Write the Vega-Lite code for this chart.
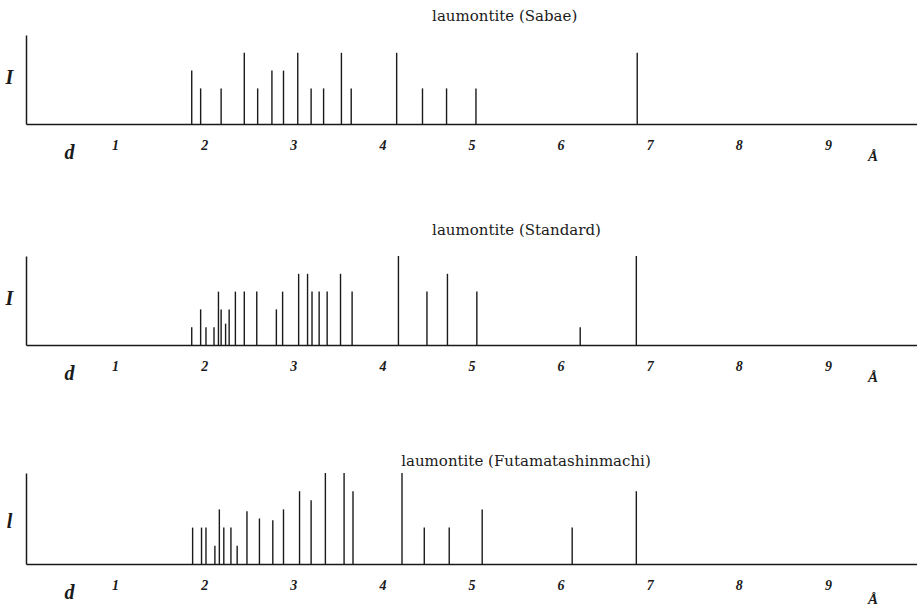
{
  "$schema": "https://vega.github.io/schema/vega-lite/v6.json",
  "background": "white",
  "padding": {"left": 5, "top": 9, "right": 0, "bottom": 0},
  "spacing": 60,
  "config": {
    "view": {"stroke": null},
    "axisX": {
      "ticks": false,
      "grid": false,
      "domainColor": "#1a1a1a",
      "domainWidth": 1.5,
      "labelFont": "Liberation Serif",
      "labelFontStyle": "italic",
      "labelFontWeight": "bold",
      "labelColor": "#1a1a1a",
      "labelFlush": false,
      "labelOverlap": false,
      "titleX": 43,
      "titleY": 28,
      "titleAlign": "center",
      "titleBaseline": "middle",
      "titleFont": "Liberation Serif",
      "titleFontStyle": "italic",
      "titleFontWeight": "bold",
      "titleFontSize": 20,
      "titleColor": "#1a1a1a"
    },
    "axisY": {
      "titleAngle": 0,
      "titleX": -17,
      "titleY": 42,
      "titleAlign": "center",
      "titleBaseline": "middle",
      "titleFont": "Liberation Serif",
      "titleFontStyle": "italic",
      "titleFontWeight": "bold",
      "titleFontSize": 20,
      "titleColor": "#1a1a1a",
      "labels": false,
      "ticks": false,
      "grid": false,
      "domainColor": "#1a1a1a",
      "domainWidth": 1.5
    }
  },
  "datasets": {
    "sabae": [
      {"d": 1.86, "I": 3}, {"d": 1.96, "I": 2}, {"d": 2.19, "I": 2}, {"d": 2.45, "I": 4},
      {"d": 2.60, "I": 2}, {"d": 2.76, "I": 3}, {"d": 2.89, "I": 3}, {"d": 3.05, "I": 4},
      {"d": 3.20, "I": 2}, {"d": 3.34, "I": 2}, {"d": 3.54, "I": 4}, {"d": 3.65, "I": 2},
      {"d": 4.16, "I": 4}, {"d": 4.45, "I": 2}, {"d": 4.72, "I": 2}, {"d": 5.05, "I": 2},
      {"d": 6.86, "I": 4}
    ],
    "standard": [
      {"d": 1.86, "I": 1}, {"d": 1.96, "I": 2}, {"d": 2.02, "I": 1}, {"d": 2.11, "I": 1},
      {"d": 2.16, "I": 3}, {"d": 2.19, "I": 2}, {"d": 2.24, "I": 1.2}, {"d": 2.28, "I": 2},
      {"d": 2.35, "I": 3}, {"d": 2.45, "I": 3}, {"d": 2.59, "I": 3}, {"d": 2.81, "I": 2},
      {"d": 2.88, "I": 3}, {"d": 3.06, "I": 4}, {"d": 3.16, "I": 4}, {"d": 3.21, "I": 3},
      {"d": 3.29, "I": 3}, {"d": 3.38, "I": 3}, {"d": 3.53, "I": 4}, {"d": 3.66, "I": 3},
      {"d": 4.18, "I": 5}, {"d": 4.50, "I": 3}, {"d": 4.73, "I": 4}, {"d": 5.06, "I": 3},
      {"d": 6.22, "I": 1}, {"d": 6.85, "I": 5}
    ],
    "futamata": [
      {"d": 1.87, "I": 2}, {"d": 1.97, "I": 2}, {"d": 2.02, "I": 2}, {"d": 2.12, "I": 1},
      {"d": 2.17, "I": 3}, {"d": 2.22, "I": 2}, {"d": 2.30, "I": 2}, {"d": 2.37, "I": 1},
      {"d": 2.48, "I": 2.9}, {"d": 2.62, "I": 2.5}, {"d": 2.77, "I": 2.4}, {"d": 2.89, "I": 3},
      {"d": 3.07, "I": 4}, {"d": 3.20, "I": 3.5}, {"d": 3.36, "I": 5}, {"d": 3.57, "I": 5},
      {"d": 3.67, "I": 4}, {"d": 4.22, "I": 5}, {"d": 4.47, "I": 2}, {"d": 4.75, "I": 2},
      {"d": 5.12, "I": 3}, {"d": 6.13, "I": 2}, {"d": 6.85, "I": 4}
    ]
  },
  "vconcat": [
    {
      "width": 891,
      "height": 89,
      "title": {"text": "laumontite (Sabae)", "anchor": "start", "dx": 427, "offset": 11, "font": "DejaVu Serif", "fontSize": 15, "fontWeight": "normal", "color": "#1a1a1a"},
      "data": {"name": "sabae"},
      "mark": {"type": "rule", "color": "#1a1a1a", "strokeWidth": 1.4},
      "encoding": {
        "x": {"field": "d", "type": "quantitative", "scale": {"domain": [0, 10], "nice": false},
          "axis": {"title": "d", "values": [1, 2, 3, 4, 5, 6, 7, 8, 9, 9.5],
            "labelExpr": "datum.value > 9.2 ? 'Å' : datum.label",
            "labelFontSize": {"condition": {"test": "datum.value > 9.2", "value": 15}, "value": 14},
            "labelPadding": {"condition": {"test": "datum.value > 9.2", "value": 24}, "value": 14}}},
        "y": {"field": "I", "type": "quantitative", "scale": {"domain": [0, 5], "nice": false}, "axis": {"title": "I"}},
        "y2": {"datum": 0}
      }
    },
    {
      "spacing": 70,
      "vconcat": [
        {
          "width": 891,
          "height": 89,
          "title": {"text": "laumontite (Standard)", "anchor": "start", "dx": 427, "offset": 17, "font": "DejaVu Serif", "fontSize": 15, "fontWeight": "normal", "color": "#1a1a1a"},
          "data": {"name": "standard"},
          "mark": {"type": "rule", "color": "#1a1a1a", "strokeWidth": 1.4},
          "encoding": {
            "x": {"field": "d", "type": "quantitative", "scale": {"domain": [0, 10], "nice": false},
              "axis": {"title": "d", "values": [1, 2, 3, 4, 5, 6, 7, 8, 9, 9.5],
                "labelExpr": "datum.value > 9.2 ? 'Å' : datum.label",
                "labelFontSize": {"condition": {"test": "datum.value > 9.2", "value": 15}, "value": 14},
                "labelPadding": {"condition": {"test": "datum.value > 9.2", "value": 24}, "value": 14}}},
            "y": {"field": "I", "type": "quantitative", "scale": {"domain": [0, 5], "nice": false}, "axis": {"title": "I"}},
            "y2": {"datum": 0}
          }
        },
        {
          "width": 891,
          "height": 91,
          "title": {"text": "laumontite (Futamatashinmachi)", "anchor": "start", "dx": 395, "offset": 3, "font": "DejaVu Serif", "fontSize": 15, "fontWeight": "normal", "color": "#1a1a1a"},
          "data": {"name": "futamata"},
          "mark": {"type": "rule", "color": "#1a1a1a", "strokeWidth": 1.4},
          "encoding": {
            "x": {"field": "d", "type": "quantitative", "scale": {"domain": [0, 10], "nice": false},
              "axis": {"title": "d", "values": [1, 2, 3, 4, 5, 6, 7, 8, 9, 9.5],
                "labelExpr": "datum.value > 9.2 ? 'Å' : datum.label",
                "labelFontSize": {"condition": {"test": "datum.value > 9.2", "value": 15}, "value": 14},
                "labelPadding": {"condition": {"test": "datum.value > 9.2", "value": 27}, "value": 14}}},
            "y": {"field": "I", "type": "quantitative", "scale": {"domain": [0, 5], "nice": false}, "axis": {"title": "l", "titleY": 48}},
            "y2": {"datum": 0}
          }
        }
      ]
    }
  ]
}
